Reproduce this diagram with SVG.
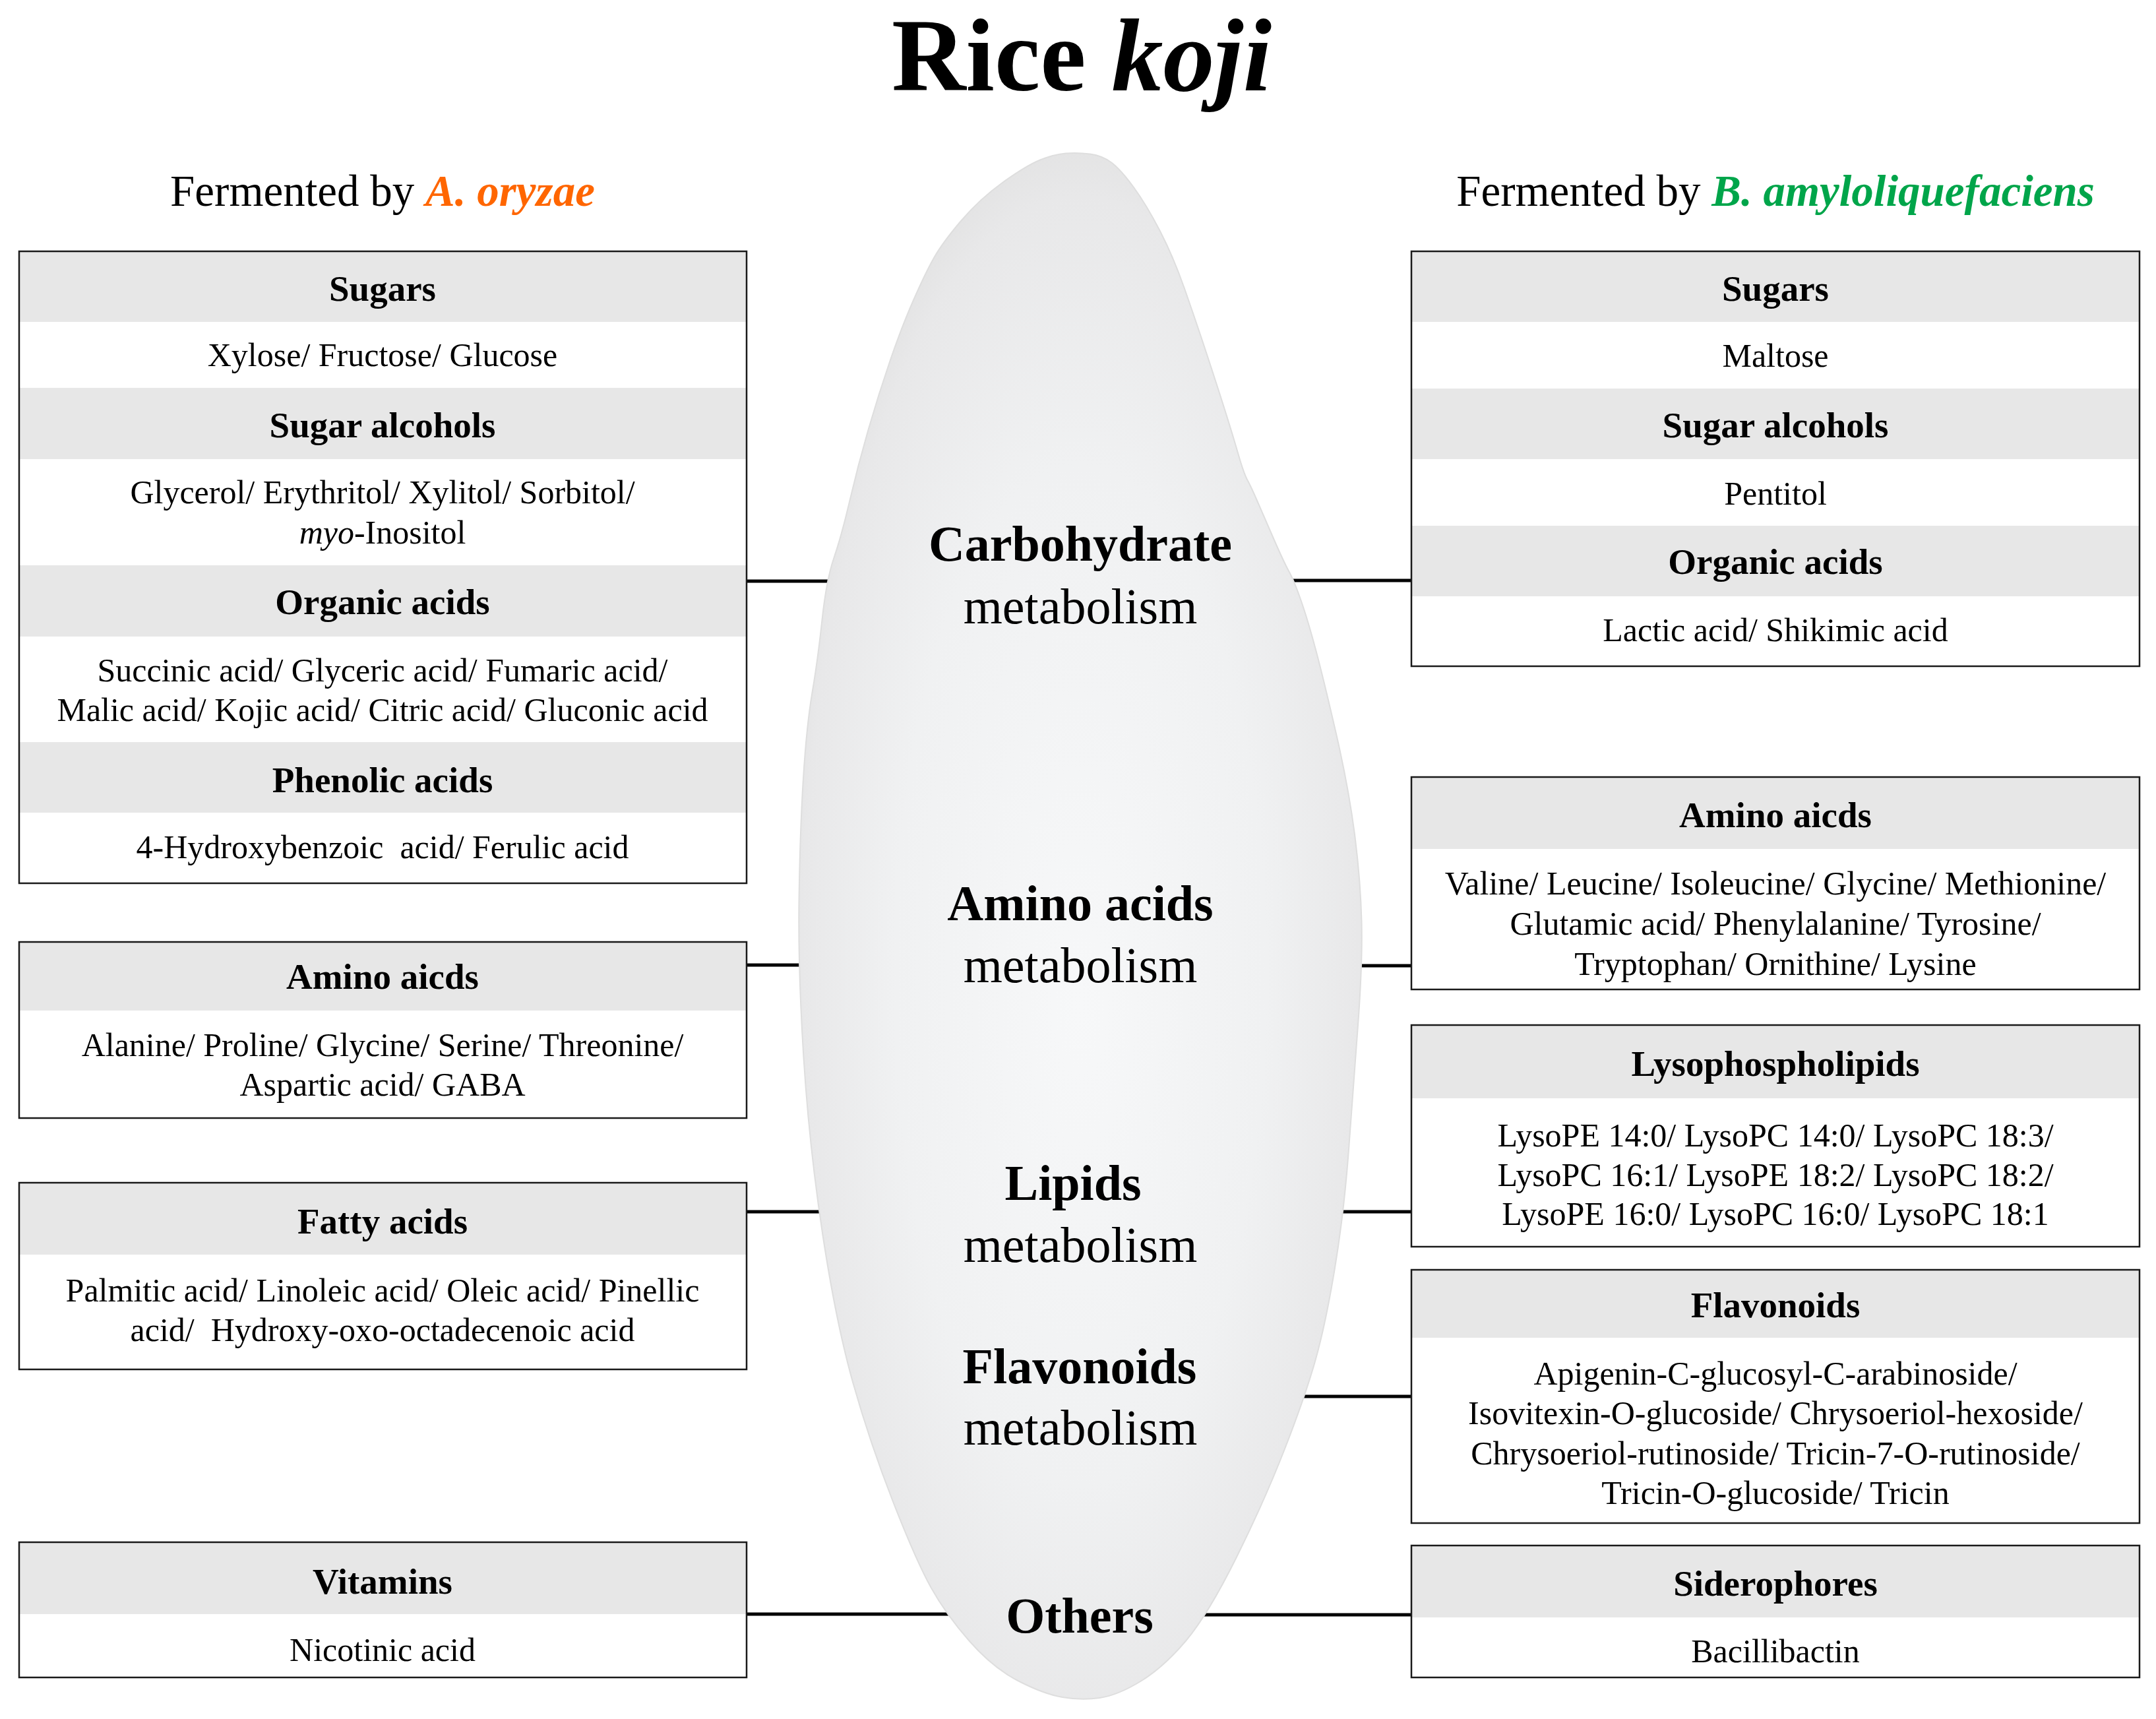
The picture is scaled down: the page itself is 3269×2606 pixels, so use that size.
<svg xmlns="http://www.w3.org/2000/svg" width="3269" height="2606" viewBox="0 0 3269 2606">
<defs>
<radialGradient id="grain" cx="50%" cy="52%" r="55%" fx="50%" fy="55%">
<stop offset="0" stop-color="#f7f8f9"/>
<stop offset="0.6" stop-color="#f0f1f2"/>
<stop offset="0.9" stop-color="#e8e8e9"/>
<stop offset="1" stop-color="#e0e0e0"/>
</radialGradient>
<style>
text{font-family:"Liberation Serif","Times New Roman",serif;fill:#000}
.box{fill:#fff}
.out{fill:none;stroke:#1a1a1a;stroke-width:2.5}
.hd{fill:#e7e7e7}
.h{font-size:55px;font-weight:bold;text-anchor:middle}
.v{font-size:50px;text-anchor:middle}
.c{font-size:76px;text-anchor:middle}
.cb{font-weight:bold}
.conn line{stroke:#000;stroke-width:5}
.pre{white-space:pre}
</style>
</defs>
<rect width="3269" height="2606" fill="#fff"/>

<g id="title">
<text x="1640" y="137" font-size="156" font-weight="bold" text-anchor="middle">Rice <tspan font-style="italic">koji</tspan></text>
</g>
<g id="left-heading">
<text x="580" y="312" font-size="67" text-anchor="middle">Fermented by <tspan font-weight="bold" font-style="italic" fill="#ff6600">A. oryzae</tspan></text>
</g>
<g id="right-heading">
<text x="2692" y="312" font-size="67" text-anchor="middle">Fermented by <tspan font-weight="bold" font-style="italic" fill="#00a54a">B. amyloliquefaciens</tspan></text>
</g>

<g class="conn" id="connectors">
<line x1="1132" y1="881" x2="1640" y2="881"/>
<line x1="1132" y1="1463" x2="1640" y2="1463"/>
<line x1="1132" y1="1837" x2="1640" y2="1837"/>
<line x1="1132" y1="2447" x2="1640" y2="2447"/>
<line x1="1640" y1="880" x2="2140" y2="880"/>
<line x1="1640" y1="1464" x2="2140" y2="1464"/>
<line x1="1640" y1="1837" x2="2140" y2="1837"/>
<line x1="1640" y1="2117" x2="2140" y2="2117"/>
<line x1="1640" y1="2448" x2="2140" y2="2448"/>
</g>

<g id="rice-grain">
<path fill="url(#grain)" stroke="#dedede" stroke-width="2" d="M1616,232.5 Q1634,231 1653,233.5 Q1672,236 1686,247 Q1700,258 1719,284 Q1738,310 1758.5,349.5 Q1779,389 1796,437.5 Q1813,486 1829,534.5 Q1845,583 1857,621 Q1869,659 1877.5,688.5 Q1886,718 1891.5,728 Q1897,738 1906.5,760 Q1916,782 1931.5,817.5 Q1947,853 1954.5,866.5 Q1962,880 1972.5,910 Q1983,940 1995,985 Q2007,1030 2026,1112.5 Q2045,1195 2054,1265 Q2063,1335 2064.5,1397.5 Q2066,1460 2059,1554 Q2052,1648 2045,1742.5 Q2038,1837 2024,1922 Q2010,2007 1994.5,2062 Q1979,2117 1948,2196.5 Q1917,2276 1874.5,2361.5 Q1832,2447 1798.5,2487 Q1765,2527 1730,2548.5 Q1695,2570 1667.5,2574 Q1640,2578 1611,2573 Q1582,2568 1543.5,2548 Q1505,2528 1469.5,2487.5 Q1434,2447 1411.5,2406.5 Q1389,2366 1354,2276.5 Q1319,2187 1293.5,2097 Q1268,2007 1247.5,1872.5 Q1227,1738 1218.5,1603.5 Q1210,1469 1211.5,1364.5 Q1213,1260 1218,1180 Q1223,1100 1231.5,1050 Q1240,1000 1246.5,939.5 Q1253,879 1264.5,845.5 Q1276,812 1288.5,758.5 Q1301,705 1316.5,651.5 Q1332,598 1349.5,547 Q1367,496 1385,455 Q1403,414 1416,391 Q1429,368 1457,335 Q1485,302 1520.5,276.5 Q1556,251 1577,242.5 Q1598,234 1616,232.5 Z"/>
<text class="c" x="1638" y="850"><tspan class="cb">Carbohydrate</tspan></text>
<text class="c" x="1638" y="945">metabolism</text>
<text class="c" x="1638" y="1395"><tspan class="cb">Amino acids</tspan></text>
<text class="c" x="1638" y="1489">metabolism</text>
<text class="c" x="1627" y="1819"><tspan class="cb">Lipids</tspan></text>
<text class="c" x="1638" y="1913">metabolism</text>
<text class="c" x="1637" y="2097"><tspan class="cb">Flavonoids</tspan></text>
<text class="c" x="1638" y="2190">metabolism</text>
<text class="c" x="1637" y="2475"><tspan class="cb">Others</tspan></text>
</g>

<g id="left-carbohydrates">
<rect class="box" x="29" y="381" width="1103" height="958"/>
<rect class="hd" x="29" y="381" width="1103" height="107"/>
<rect class="hd" x="29" y="588" width="1103" height="108"/>
<rect class="hd" x="29" y="857" width="1103" height="108"/>
<rect class="hd" x="29" y="1125" width="1103" height="107"/>
<rect class="out" x="29" y="381" width="1103" height="958"/>
<text class="h" x="580" y="456">Sugars</text>
<text class="v" x="580" y="555">Xylose/ Fructose/ Glucose</text>
<text class="h" x="580" y="663">Sugar alcohols</text>
<text class="v" x="580" y="763">Glycerol/ Erythritol/ Xylitol/ Sorbitol/</text>
<text class="v" x="580" y="824"><tspan font-style="italic">myo</tspan>-Inositol</text>
<text class="h" x="580" y="931">Organic acids</text>
<text class="v" x="580" y="1033">Succinic acid/ Glyceric acid/ Fumaric acid/</text>
<text class="v" x="580" y="1093">Malic acid/ Kojic acid/ Citric acid/ Gluconic acid</text>
<text class="h" x="580" y="1201">Phenolic acids</text>
<text class="v pre" x="580" y="1301">4-Hydroxybenzoic  acid/ Ferulic acid</text>
</g>

<g id="left-amino">
<rect class="box" x="29" y="1428" width="1103" height="267"/>
<rect class="hd" x="29" y="1428" width="1103" height="104"/>
<rect class="out" x="29" y="1428" width="1103" height="267"/>
<text class="h" x="580" y="1499">Amino aicds</text>
<text class="v" x="580" y="1601">Alanine/ Proline/ Glycine/ Serine/ Threonine/</text>
<text class="v" x="580" y="1661">Aspartic acid/ GABA</text>
</g>

<g id="left-fatty">
<rect class="box" x="29" y="1793" width="1103" height="283"/>
<rect class="hd" x="29" y="1793" width="1103" height="109"/>
<rect class="out" x="29" y="1793" width="1103" height="283"/>
<text class="h" x="580" y="1870">Fatty acids</text>
<text class="v" x="580" y="1973">Palmitic acid/ Linoleic acid/ Oleic acid/ Pinellic</text>
<text class="v pre" x="580" y="2033">acid/  Hydroxy-oxo-octadecenoic acid</text>
</g>

<g id="left-vitamins">
<rect class="box" x="29" y="2338" width="1103" height="205"/>
<rect class="hd" x="29" y="2338" width="1103" height="109"/>
<rect class="out" x="29" y="2338" width="1103" height="205"/>
<text class="h" x="580" y="2416">Vitamins</text>
<text class="v" x="580" y="2518">Nicotinic acid</text>
</g>

<g id="right-carbohydrates">
<rect class="box" x="2140" y="381" width="1104" height="629"/>
<rect class="hd" x="2140" y="381" width="1104" height="107"/>
<rect class="hd" x="2140" y="589" width="1104" height="107"/>
<rect class="hd" x="2140" y="797" width="1104" height="107"/>
<rect class="out" x="2140" y="381" width="1104" height="629"/>
<text class="h" x="2692" y="456">Sugars</text>
<text class="v" x="2692" y="556">Maltose</text>
<text class="h" x="2692" y="663">Sugar alcohols</text>
<text class="v" x="2692" y="765">Pentitol</text>
<text class="h" x="2692" y="870">Organic acids</text>
<text class="v" x="2692" y="972">Lactic acid/ Shikimic acid</text>
</g>

<g id="right-amino">
<rect class="box" x="2140" y="1178" width="1104" height="322"/>
<rect class="hd" x="2140" y="1178" width="1104" height="109"/>
<rect class="out" x="2140" y="1178" width="1104" height="322"/>
<text class="h" x="2692" y="1254">Amino aicds</text>
<text class="v" x="2692" y="1356">Valine/ Leucine/ Isoleucine/ Glycine/ Methionine/</text>
<text class="v" x="2692" y="1417">Glutamic acid/ Phenylalanine/ Tyrosine/</text>
<text class="v" x="2692" y="1478">Tryptophan/ Ornithine/ Lysine</text>
</g>

<g id="right-lysophospholipids">
<rect class="box" x="2140" y="1554" width="1104" height="336"/>
<rect class="hd" x="2140" y="1554" width="1104" height="111"/>
<rect class="out" x="2140" y="1554" width="1104" height="336"/>
<text class="h" x="2692" y="1631">Lysophospholipids</text>
<text class="v" x="2692" y="1738">LysoPE 14:0/ LysoPC 14:0/ LysoPC 18:3/</text>
<text class="v" x="2692" y="1798">LysoPC 16:1/ LysoPE 18:2/ LysoPC 18:2/</text>
<text class="v" x="2692" y="1857">LysoPE 16:0/ LysoPC 16:0/ LysoPC 18:1</text>
</g>

<g id="right-flavonoids">
<rect class="box" x="2140" y="1925" width="1104" height="384"/>
<rect class="hd" x="2140" y="1925" width="1104" height="103"/>
<rect class="out" x="2140" y="1925" width="1104" height="384"/>
<text class="h" x="2692" y="1997">Flavonoids</text>
<text class="v" x="2692" y="2099">Apigenin-C-glucosyl-C-arabinoside/</text>
<text class="v" x="2692" y="2159">Isovitexin-O-glucoside/ Chrysoeriol-hexoside/</text>
<text class="v" x="2692" y="2220">Chrysoeriol-rutinoside/ Tricin-7-O-rutinoside/</text>
<text class="v" x="2692" y="2280">Tricin-O-glucoside/ Tricin</text>
</g>

<g id="right-siderophores">
<rect class="box" x="2140" y="2343" width="1104" height="200"/>
<rect class="hd" x="2140" y="2343" width="1104" height="109"/>
<rect class="out" x="2140" y="2343" width="1104" height="200"/>
<text class="h" x="2692" y="2419">Siderophores</text>
<text class="v" x="2692" y="2520">Bacillibactin</text>
</g>
</svg>
